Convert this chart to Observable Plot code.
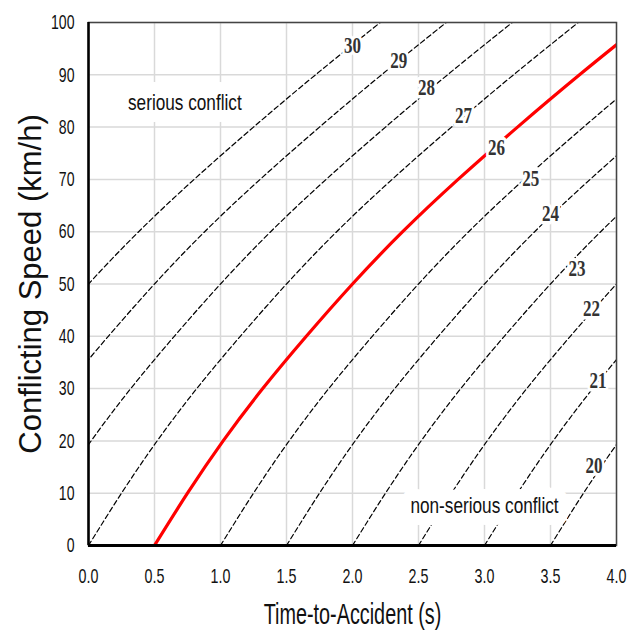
<!DOCTYPE html>
<html>
<head>
<meta charset="utf-8">
<script src="https://cdn.jsdelivr.net/npm/d3@7"></script>
<script src="https://cdn.jsdelivr.net/npm/@observablehq/plot@0.6"></script>
<style>
  html, body { margin: 0; padding: 0; background: #fff; }
  #chart svg [aria-label="x-axis label"] text { font-size: 30px; }
  #chart svg [aria-label="y-axis label"] text { font-size: 31px; }
</style>
</head>
<body>
<div id="chart"></div>
<script>
// Speeds (km/h) at which the serious/non-serious boundary (level 26) was read
const speeds = [0, 10, 20, 30, 40, 50, 60, 70, 80, 90, 100];
// Time-to-Accident (s) of the boundary curve (level 26) at those speeds
const boundaryTA = [0.5, 0.75, 1.02, 1.32, 1.65, 2.0, 2.38, 2.80, 3.25, 3.72, 4.21];
// Severity levels and horizontal offset (s) of each iso-severity curve from level 26
const levels = [30, 29, 28, 27, 26, 25, 24, 23, 22, 21, 20];
const levelShift = [-2, -1.5, -1, -0.5, 0, 0.5, 1, 1.5, 2, 2.5, 3];
// Label positions for the level numbers
const labelTA = [2.0, 2.35, 2.56, 2.84, 3.09, 3.35, 3.50, 3.70, 3.81, 3.86, 3.83];
const labelSpeed = [95.6, 92.7, 87.6, 82.2, 76.1, 70.2, 63.5, 53.0, 45.3, 31.5, 15.3];
// Region annotations
const regionNames = ["serious conflict", "non-serious conflict"];
const regionTA = [0.73, 3.0];
const regionSpeed = [84.5, 7.6];
// Axis ticks
const xTicks = [0, 0.5, 1.0, 1.5, 2.0, 2.5, 3.0, 3.5, 4.0];
const yTicks = [0, 10, 20, 30, 40, 50, 60, 70, 80, 90, 100];

const curves = levels.flatMap((lv, i) =>
  speeds.map((s, j) => ({level: lv, ta: boundaryTA[j] + levelShift[i], speed: s}))
);
const levelLabels = levels.map((lv, i) => ({text: String(lv), ta: labelTA[i], speed: labelSpeed[i]}));
const regions = regionNames.map((t, i) => ({text: t, ta: regionTA[i], speed: regionSpeed[i]}));

const sans = '"Liberation Sans", Arial, sans-serif';
const serif = '"Liberation Serif", "Times New Roman", serif';

const plot = Plot.plot({
  width: 627,
  height: 633,
  marginLeft: 88,
  marginRight: 11,
  marginTop: 22,
  marginBottom: 88,
  style: {background: "white", fontFamily: sans, color: "#111"},
  x: {domain: [0, 4]},
  y: {domain: [0, 100]},
  marks: [
    Plot.gridX(xTicks, {stroke: "#d9d9d9", strokeOpacity: 1, strokeWidth: 1.5}),
    Plot.gridY(yTicks, {stroke: "#d9d9d9", strokeOpacity: 1, strokeWidth: 1.5}),
    Plot.line(curves.filter(d => d.level !== 26), {
      x: "ta", y: "speed", z: "level",
      stroke: "#000", strokeWidth: 1.2, strokeDasharray: "5,3",
      curve: "natural", clip: true
    }),
    Plot.line(curves.filter(d => d.level === 26), {
      x: "ta", y: "speed",
      stroke: "#ff0000", strokeWidth: 3.2,
      curve: "natural", clip: true
    }),
    Plot.text(regions, {
      x: "ta", y: "speed", text: "text",
      fontSize: 21.5, fill: "#111", fontFamily: sans,
      stroke: "white", strokeWidth: 24, strokeLinejoin: "round"
    }),
    Plot.text(levelLabels, {
      x: "ta", y: "speed", text: "text",
      fontSize: 23, fontWeight: "bold", fill: "#333", fontFamily: serif,
      stroke: "white", strokeWidth: 7, strokeLinejoin: "round"
    }),
    Plot.frame({stroke: "#444", strokeWidth: 1.5}),
    Plot.ruleX([0], {stroke: "#000", strokeWidth: 2.5}),
    Plot.ruleY([0], {stroke: "#000", strokeWidth: 2.8}),
    Plot.axisX({
      ticks: xTicks, tickSize: 0, tickPadding: 23,
      tickFormat: d3.format(".1f"), fontSize: 21,
      label: "Time-to-Accident (s)", labelAnchor: "center", labelOffset: 78, labelArrow: "none"
    }),
    Plot.axisY({
      ticks: yTicks, tickSize: 0, tickPadding: 14, fontSize: 21,
      label: "Conflicting Speed (km/h)", labelAnchor: "center", labelOffset: 70, labelArrow: "none"
    })
  ]
});
document.getElementById("chart").appendChild(plot);

// Condense horizontal text to match the narrow lettering of the reference
function condenseEls(els, factor) {
  els.forEach(el => {
    const w = el.getComputedTextLength();
    if (w > 0) {
      el.setAttribute("textLength", (w * factor).toFixed(2));
      el.setAttribute("lengthAdjust", "spacingAndGlyphs");
    }
  });
}
function condense(selector, factor) {
  condenseEls(plot.querySelectorAll(selector), factor);
}
condense('[aria-label="x-axis tick label"] text', 0.68);
condense('[aria-label="y-axis tick label"] text', 0.67);
condense('[aria-label="x-axis label"] text', 0.66);
const textGroups = plot.querySelectorAll('g[aria-label="text"]');
if (textGroups[0]) condenseEls(textGroups[0].querySelectorAll("text"), 0.80);
if (textGroups[1]) condenseEls(textGroups[1].querySelectorAll("text"), 0.74);
</script>
</body>
</html>
